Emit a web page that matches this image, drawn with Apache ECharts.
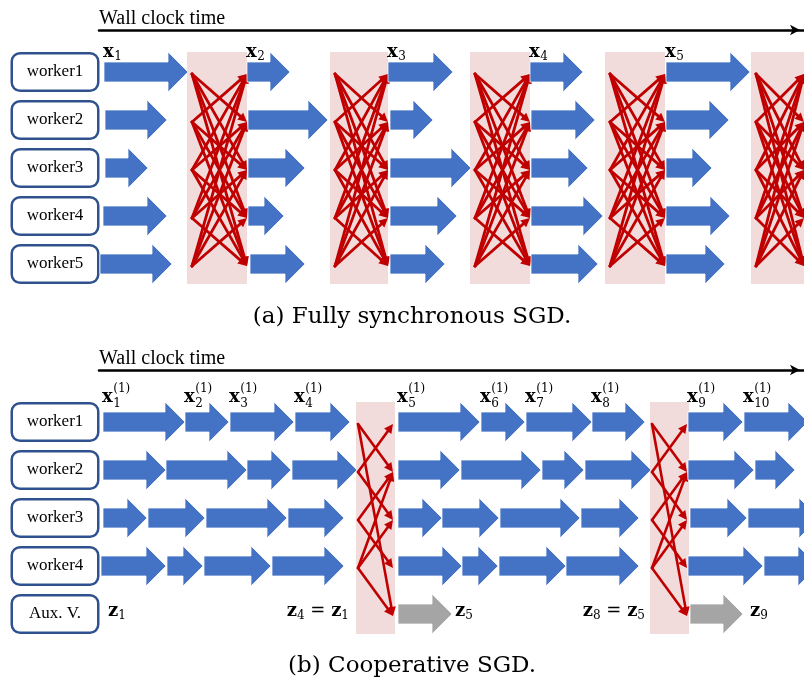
<!DOCTYPE html>
<html>
<head>
<meta charset="utf-8">
<script src="https://cdn.jsdelivr.net/npm/echarts@6/dist/echarts.min.js"></script>
<style>html,body{margin:0;padding:0;background:#fff}#c{width:804px;height:681px}</style>
</head>
<body>
<div id="c"></div>
<script>
// ---------------- data (wall-clock units) ----------------
const timeMax = 705;
const axisTitle = 'Wall clock time';
const captions = ['(a) Fully synchronous SGD.', '(b) Cooperative SGD.'];

const topWorkers = ['worker1', 'worker2', 'worker3', 'worker4', 'worker5'];
const topSegments = [
  [[5, 89], [148, 191], [289, 354], [431, 484], [567, 651]],
  [[6, 68], [149, 229], [291, 334], [432, 496], [567, 630]],
  [[6, 49], [149, 206], [291, 372], [432, 489], [567, 613]],
  [[4, 68], [149, 185], [291, 358], [432, 504], [567, 631]],
  [[1, 73], [151, 206], [291, 346], [432, 499], [567, 626]]
];
const topSyncWindows = [[88, 148], [231, 289], [371, 431], [506, 566], [652, 705]];
const topIterLabels = ['1', '2', '3', '4', '5'];

const bottomRows = ['worker1', 'worker2', 'worker3', 'worker4', 'Aux. V.'];
const bottomSegments = [
  [[4, 86], [86, 130], [131, 195], [196, 251], [299, 381], [382, 426], [427, 493], [493, 546], [589, 644], [645, 709]],
  [[4, 67], [67, 148], [148, 192], [193, 258], [299, 361], [362, 442], [443, 485], [486, 552], [589, 655], [656, 696]],
  [[4, 48], [49, 106], [107, 188], [189, 245], [299, 343], [343, 400], [401, 481], [482, 540], [591, 648], [649, 720]],
  [[2, 67], [68, 104], [105, 172], [173, 245], [299, 363], [363, 399], [400, 467], [467, 540], [589, 664], [665, 719]]
];
const auxSegments = [[299, 353], [591, 644]];
const bottomSyncWindows = [[257, 296], [551, 590]];
const bottomEdges = [[0, 1], [0, 4], [1, 0], [1, 2], [2, 1], [2, 3], [3, 2], [3, 1], [3, 4]];
const bottomIterLabels = ['1', '2', '3', '4', '5', '6', '7', '8', '9', '10'];
const bottomIterSup = '(1)';
const auxNoteTimes = [9, 250, 356, 546, 651];
const auxNoteTerms = [['1'], ['4', '1'], ['5'], ['8', '5'], ['9']];
const auxNoteAlign = ['left', 'right', 'left', 'right', 'left'];

// ---------------- styles ----------------
const C = { blue: '#4472c4', gray: '#a5a5a5', red: '#c00000', pink: '#f2dcdb', box: '#2f528f' };
const MF = 'DejaVu Serif';
const TF = 'Liberation Serif';

const mctx = document.createElement('canvas').getContext('2d');
function tw(text, size, bold) {
  mctx.font = (bold ? 'bold ' : '') + size + 'px "' + MF + '"';
  return mctx.measureText(text).width;
}
function txt(text, x, base, size, bold) {
  return {
    type: 'text', x: x, y: base - 0.34 * size,
    style: { text: text, fontFamily: MF, fontSize: size, fontWeight: bold ? 'bold' : 'normal',
      fill: '#000', align: 'left', verticalAlign: 'middle' }
  };
}
const LS = 18, SS = 12;

// ---------------- derived series data ----------------
const allPairs = [];
for (let f = 0; f < topWorkers.length; f++)
  for (let t = 0; t < topWorkers.length; t++)
    if (f !== t) allPairs.push([f, t]);

const topArrowData = topSegments.flatMap((segs, r) => segs.map(([s, e]) => [r, s, e, 0]));
const bottomArrowData = bottomSegments.flatMap((segs, r) => segs.map(([s, e]) => [r, s, e, 0]))
  .concat(auxSegments.map(([s, e]) => [bottomRows.length - 1, s, e, 1]));
const topEdgeData = topSyncWindows.flatMap(([s, e]) => allPairs.map(([f, t]) => [s, e, f, t]));
const bottomEdgeData = bottomSyncWindows.flatMap(([s, e]) => bottomEdges.map(([f, t]) => [s, e, f, t]));
const topLabelData = topSegments[0].map(([s]) => [s, 0]);
const bottomLabelData = bottomSegments[0].map(([s]) => [s, 0]);
const auxNoteData = auxNoteTimes.map(t => [t, bottomRows.length - 1]);

// ---------------- render helpers ----------------
function arrowRender(params, api) {
  const row = api.value(0), s = api.value(1), e = api.value(2), gray = api.value(3);
  const p0 = api.coord([s, row]), p1 = api.coord([e, row]);
  const len = p1[0] - p0[0];
  const hl = Math.min(20, len * 0.6), bh = 10, hh = 20, y = p0[1];
  const xh = p1[0] - hl;
  return {
    type: 'polygon',
    shape: { points: [[p0[0], y - bh], [xh, y - bh], [xh, y - hh], [p1[0], y], [xh, y + hh], [xh, y + bh], [p0[0], y + bh]] },
    style: { fill: gray ? C.gray : C.blue, stroke: 'rgba(255,255,255,0.75)', lineWidth: 1 }
  };
}
function syncRender(nRows) {
  return function (params, api) {
    const s = api.value(0), e = api.value(1);
    const a = api.coord([s, 0]), b = api.coord([e, nRows - 1]);
    return { type: 'rect', shape: { x: a[0], y: a[1] - 20, width: b[0] - a[0], height: b[1] - a[1] + 40 },
      style: { fill: C.pink } };
  };
}
function edgeRender(padL, padR, dy, lw) {
  return function (params, api) {
    const s = api.value(0), e = api.value(1), f = api.value(2), t = api.value(3);
    const a = api.coord([s, f]), b = api.coord([e, t]);
    const x1 = a[0] + padL, y1 = a[1] + dy, x2 = b[0] - padR, y2 = b[1] + dy;
    const dx = x2 - x1, dyy = y2 - y1, L = Math.sqrt(dx * dx + dyy * dyy);
    const ux = dx / L, uy = dyy / L, hl = 9, hw = 4.5;
    const bx = x2 - ux * hl, by = y2 - uy * hl;
    return {
      type: 'group',
      children: [
        { type: 'line', shape: { x1: x1, y1: y1, x2: bx + ux * 2, y2: by + uy * 2 },
          style: { stroke: C.red, lineWidth: lw, lineCap: 'round' } },
        { type: 'polygon', shape: { points: [[x2, y2], [bx - uy * hw, by + ux * hw], [bx + uy * hw, by - ux * hw]] },
          style: { fill: C.red } }
      ]
    };
  };
}
function iterLabelRender(labels, sup, lift) {
  return function (params, api) {
    const p = api.coord([api.value(0), api.value(1)]);
    const x = p[0] - 1, base = p[1] - lift;
    const wx = tw('x', LS, true);
    const kids = [txt('x', x, base, LS, true), txt(labels[params.dataIndex], x + wx + 0.5, base + (sup ? 5 : 3), SS, false)];
    if (sup) kids.push(txt(sup, x + wx + 0.5, base - 10, SS, false));
    return { type: 'group', children: kids };
  };
}
function auxNoteRender(params, api) {
  const p = api.coord([api.value(0), api.value(1)]);
  const terms = auxNoteTerms[params.dataIndex];
  const frags = [];
  terms.forEach((k, i) => {
    if (i > 0) frags.push({ t: ' = ', size: LS, bold: false, dy: 0 });
    frags.push({ t: 'z', size: LS, bold: true, dy: 0 });
    frags.push({ t: k, size: SS, bold: false, dy: 3 });
  });
  let total = 0;
  frags.forEach(f => { f.w = tw(f.t, f.size, f.bold); total += f.w; });
  let x = auxNoteAlign[params.dataIndex] === 'right' ? p[0] - total : p[0];
  const base = p[1] + 3;
  const kids = frags.map(f => { const el = txt(f.t, x, base + f.dy, f.size, f.bold); x += f.w; return el; });
  return { type: 'group', children: kids };
}

function boxLabel() {
  return {
    interval: 0, margin: 2,
    formatter: v => '{box|' + v + '}',
    rich: { box: { width: 82, height: 33, lineHeight: 33, align: 'center', verticalAlign: 'middle',
      padding: [1, 1, 1, 1], borderColor: C.box, borderWidth: 2.5, borderRadius: 7,
      backgroundColor: '#fff', fontFamily: TF, fontSize: 17, color: '#000' } }
  };
}
function timeAxis(gi, offset) {
  return {
    gridIndex: gi, type: 'value', min: 0, max: timeMax, position: 'top', offset: offset,
    name: axisTitle, nameLocation: 'start', nameGap: 0,
    nameTextStyle: { fontFamily: TF, fontSize: 20, color: '#000', align: 'left', verticalAlign: 'bottom', padding: [0, 0, 1, 0] },
    axisLine: { show: true, onZero: false, lineStyle: { color: '#000', width: 2.5 },
      symbol: ['none', 'arrow'], symbolSize: [8, 10], symbolOffset: [0, -4] },
    axisTick: { show: false }, axisLabel: { show: false }, splitLine: { show: false }
  };
}
function rowAxis(gi, rows) {
  return {
    gridIndex: gi, type: 'category', data: rows, inverse: true,
    axisLine: { show: false }, axisTick: { show: false }, splitLine: { show: false },
    axisLabel: boxLabel()
  };
}

const capStyle = { fontFamily: MF, fontSize: 23, fill: '#000', align: 'center', verticalAlign: 'middle' };
const chart = echarts.init(document.getElementById('c'), null, { renderer: 'canvas' });
chart.setOption({
  animation: false,
  backgroundColor: '#fff',
  grid: [
    { left: 99, right: 0, top: 48, height: 240, outerBoundsMode: 'none', containLabel: false },
    { left: 99, right: 0, top: 398, height: 240, outerBoundsMode: 'none', containLabel: false }
  ],
  xAxis: [timeAxis(0, 18), timeAxis(1, 28)],
  yAxis: [rowAxis(0, topWorkers), rowAxis(1, bottomRows)],
  graphic: [
    { type: 'text', x: 412, y: 317, style: Object.assign({ text: captions[0] }, capStyle) },
    { type: 'text', x: 412, y: 666, style: Object.assign({ text: captions[1] }, capStyle) }
  ],
  series: [
    { type: 'custom', xAxisIndex: 0, yAxisIndex: 0, data: topSyncWindows, encode: { x: [0, 1] }, renderItem: syncRender(topWorkers.length), z: 1 },
    { type: 'custom', xAxisIndex: 1, yAxisIndex: 1, data: bottomSyncWindows, encode: { x: [0, 1] }, renderItem: syncRender(bottomRows.length), z: 1 },
    { type: 'custom', xAxisIndex: 0, yAxisIndex: 0, data: topEdgeData, encode: { x: [0, 1], y: [2, 3] }, renderItem: edgeRender(5, 0, 2, 2.8), z: 2 },
    { type: 'custom', xAxisIndex: 1, yAxisIndex: 1, data: bottomEdgeData, encode: { x: [0, 1], y: [2, 3] }, renderItem: edgeRender(2, 2, 2, 2.6), z: 2 },
    { type: 'custom', xAxisIndex: 0, yAxisIndex: 0, data: topArrowData, encode: { y: 0, x: [1, 2] }, renderItem: arrowRender, z: 3 },
    { type: 'custom', xAxisIndex: 1, yAxisIndex: 1, data: bottomArrowData, encode: { y: 0, x: [1, 2] }, renderItem: arrowRender, z: 3 },
    { type: 'custom', xAxisIndex: 0, yAxisIndex: 0, data: topLabelData, encode: { x: 0, y: 1 }, clip: false, renderItem: iterLabelRender(topIterLabels, null, 14), z: 4 },
    { type: 'custom', xAxisIndex: 1, yAxisIndex: 1, data: bottomLabelData, encode: { x: 0, y: 1 }, clip: false, renderItem: iterLabelRender(bottomIterLabels, bottomIterSup, 19), z: 4 },
    { type: 'custom', xAxisIndex: 1, yAxisIndex: 1, data: auxNoteData, encode: { x: 0, y: 1 }, clip: false, renderItem: auxNoteRender, z: 4 }
  ]
});
</script>
</body>
</html>
